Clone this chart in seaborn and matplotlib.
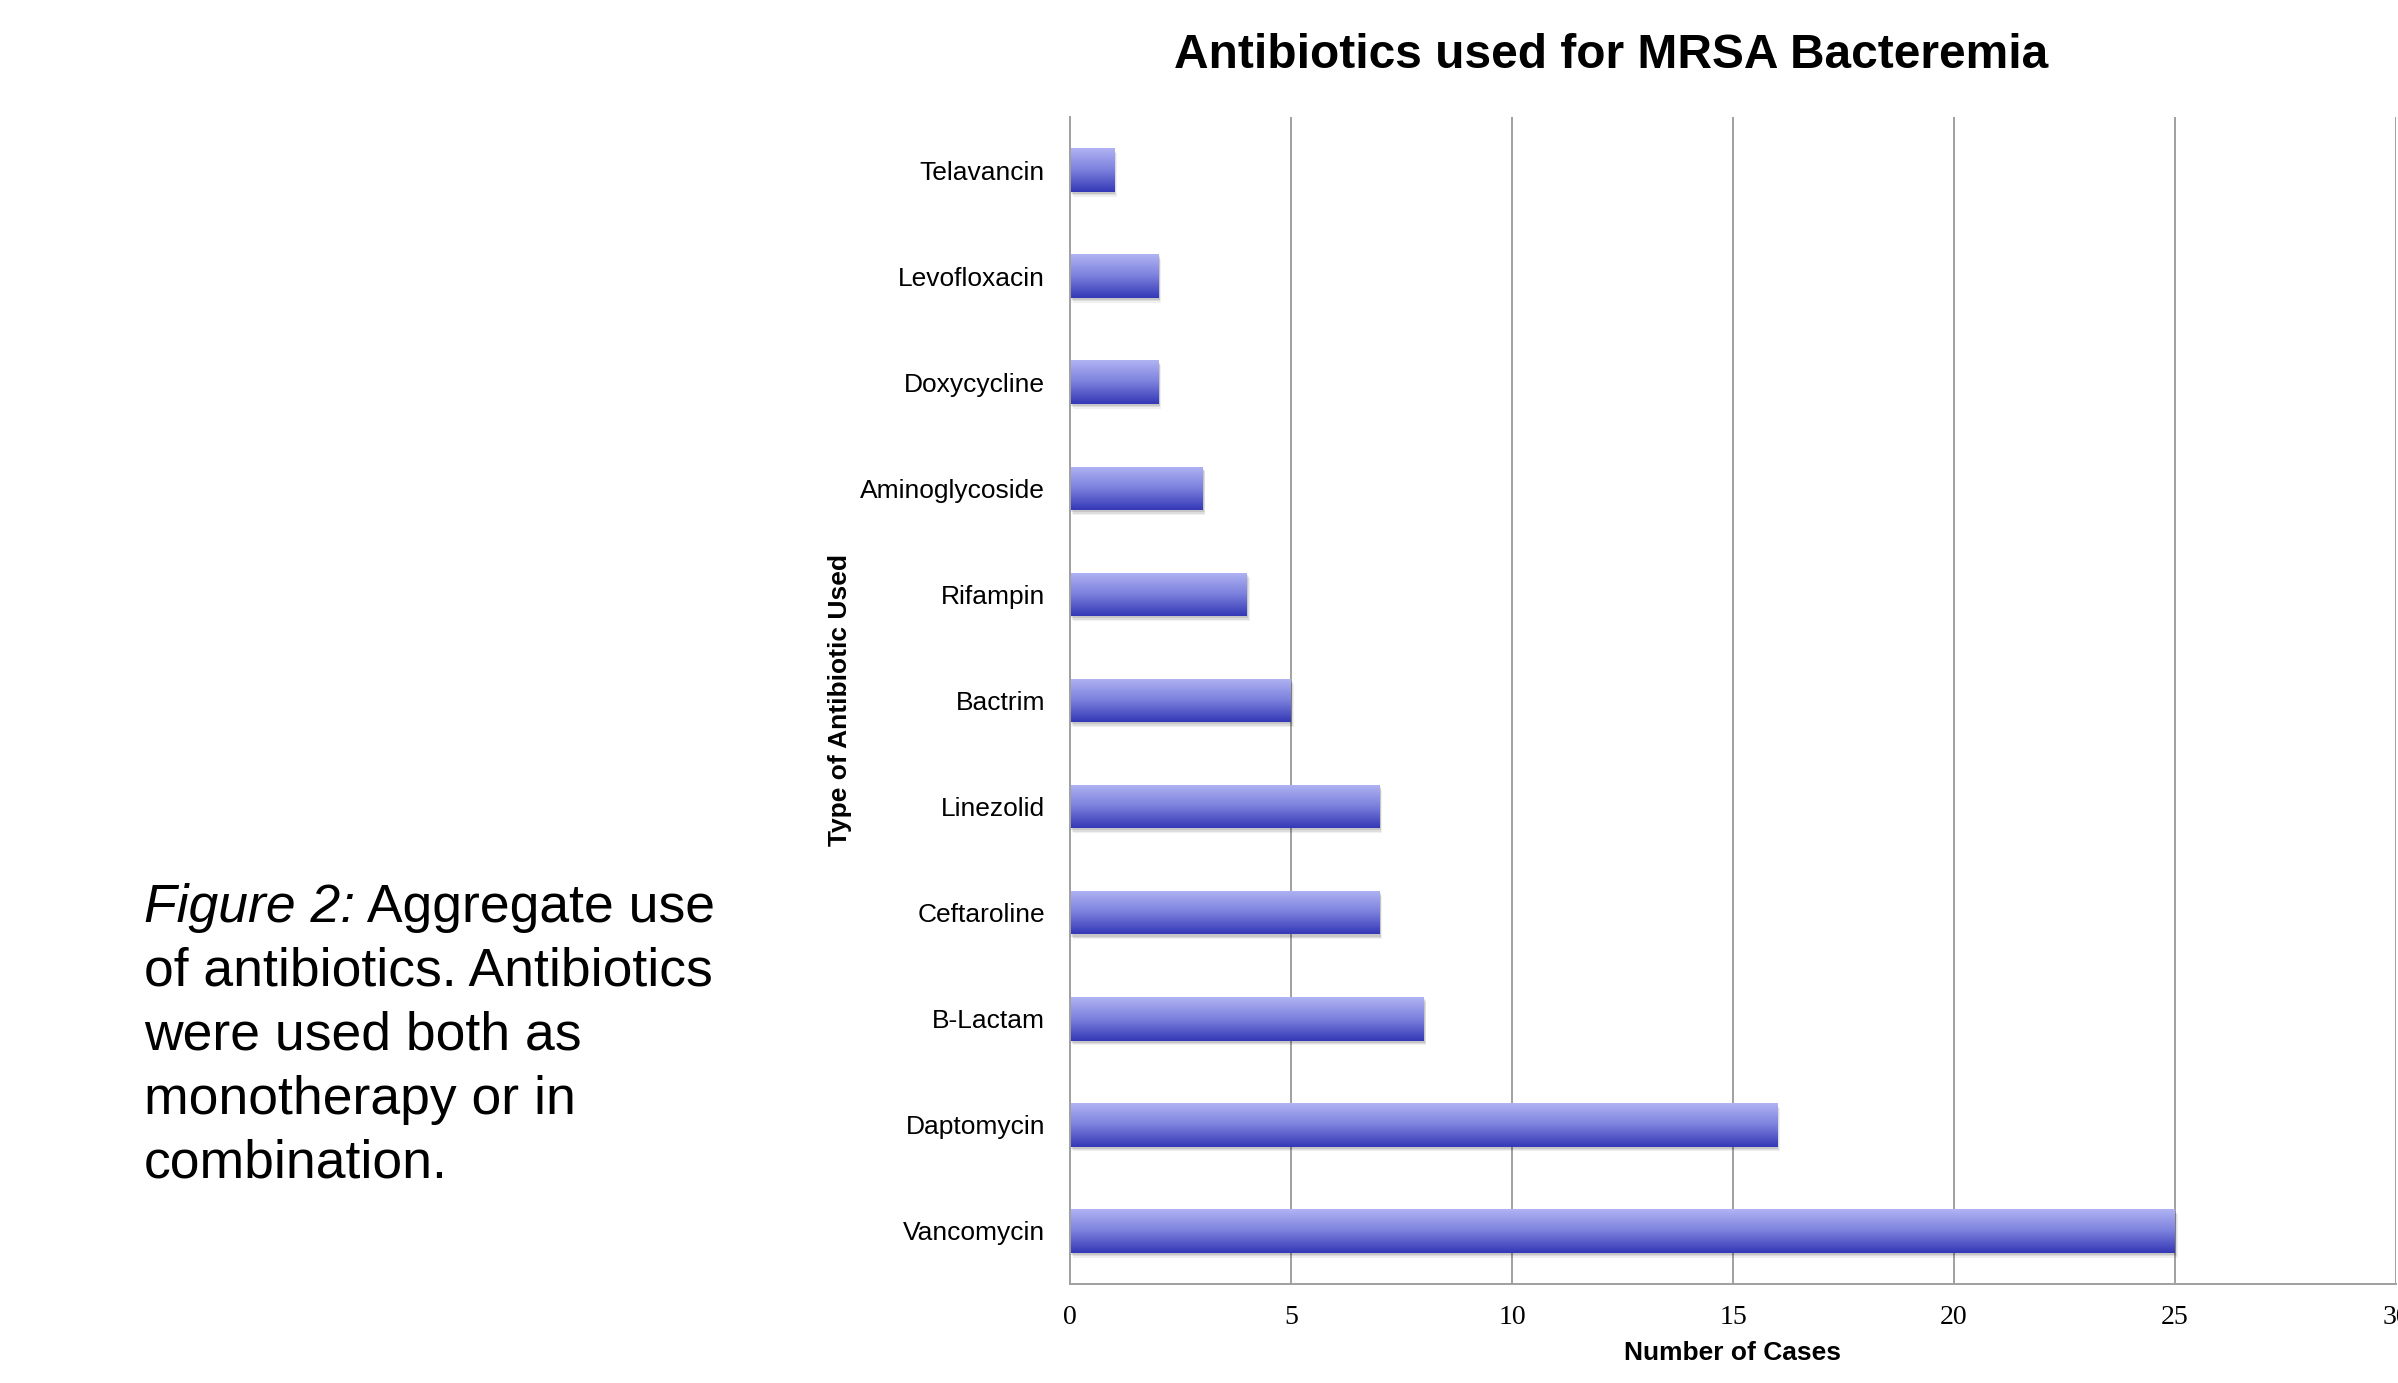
import numpy as np
import matplotlib
matplotlib.use("Agg")
import matplotlib.pyplot as plt
import matplotlib.patheffects as pe
from matplotlib.colors import LinearSegmentedColormap
import seaborn as sns

# data (top to bottom)
antibiotics = ["Telavancin", "Levofloxacin", "Doxycycline", "Aminoglycoside",
               "Rifampin", "Bactrim", "Linezolid", "Ceftaroline", "B-Lactam",
               "Daptomycin", "Vancomycin"]
cases = [1, 2, 2, 3, 4, 5, 7, 7, 8, 16, 25]
x_ticks = [0, 5, 10, 15, 20, 25, 30]

caption_lines = ["of antibiotics. Antibiotics", "were used both as",
                 "monotherapy or in", "combination."]

sns.set_style("white")
plt.rcParams["font.family"] = ["Liberation Sans", "DejaVu Sans"]
plt.rcParams["text.color"] = "black"
plt.rcParams["axes.labelcolor"] = "black"
plt.rcParams["xtick.labelcolor"] = "black"
plt.rcParams["ytick.labelcolor"] = "black"

GREY = "#a0a0a0"
W, H = 2398, 1383
fig = plt.figure(figsize=(W / 100, H / 100), dpi=100)
ax = fig.add_axes([1070 / W, 99 / H, 1326 / W, 1167 / H])

sns.barplot(x=cases, y=antibiotics, orient="h", width=0.41,
            color="#6a6fd4", ax=ax)

# vertical gradient on each bar + soft shadow
grad_cmap = LinearSegmentedColormap.from_list("bar", ["#b0b3f3", "#7b80dd", "#3539b6"])
grad = np.linspace(0, 1, 64).reshape(-1, 1)
for p in ax.patches:
    p.set_edgecolor("none")
    p.set_path_effects([
        pe.SimplePatchShadow(offset=(2.0, -3.5), shadow_rgbFace="k", alpha=0.06),
        pe.SimplePatchShadow(offset=(1.5, -2.5), shadow_rgbFace="k", alpha=0.08),
        pe.SimplePatchShadow(offset=(0.8, -1.5), shadow_rgbFace="k", alpha=0.10),
        pe.Normal(),
    ])
    x0, y0 = p.get_x(), p.get_y()
    w, h = p.get_width(), p.get_height()
    im = ax.imshow(grad, cmap=grad_cmap, aspect="auto", interpolation="bilinear",
                   extent=[x0, x0 + w, y0 + h, y0], zorder=p.get_zorder() + 0.1)
    im.set_clip_path(p)

ax.set_xlim(0, 30)
ax.set_ylim(len(antibiotics) - 0.5, -0.5)
ax.set_xticks(x_ticks)
ax.set_yticks(np.arange(-0.5, len(antibiotics), 1), minor=True)

ax.set_axisbelow(True)
ax.xaxis.grid(True, color=GREY, linewidth=1.4)
ax.yaxis.grid(False)
for s in ["top", "right"]:
    ax.spines[s].set_visible(False)
for s in ["left", "bottom"]:
    ax.spines[s].set_color(GREY)
    ax.spines[s].set_linewidth(1.4)

ax.tick_params(axis="x", direction="out", length=4.3, width=1.4, color=GREY,
               pad=11, labelsize=20, labelfontfamily="Liberation Serif")
ax.tick_params(axis="y", which="major", length=0, pad=18, labelsize=19)
ax.tick_params(axis="y", which="minor", direction="out", length=5.8,
               width=1.4, color=GREY)

ax.set_xlabel("Number of Cases", fontsize=19, fontweight="bold")
ax.set_ylabel("Type of Antibiotic Used", fontsize=19, fontweight="bold")
ax.xaxis.set_label_coords(0.5, -0.0488)
ax.yaxis.set_label_coords(-0.1644, 0.5)

ax.set_title("Antibiotics used for MRSA Bacteremia", fontsize=34.5,
             fontweight="bold", x=0.408, y=1.0351, va="baseline")

# caption on the left
cap_x = 144 / W
first = fig.text(cap_x, 1 - 922 / H, "Figure 2:", fontsize=38.5, style="italic",
                 va="baseline")
fig.canvas.draw()
fig.text(first.get_window_extent().x1 / W, 1 - 922 / H, " Aggregate use",
         fontsize=38.5, va="baseline")
for i, line in enumerate(caption_lines):
    fig.text(cap_x, 1 - (986 + 64 * i) / H, line, fontsize=38.5, va="baseline")

fig.savefig("out.png", dpi=100)
